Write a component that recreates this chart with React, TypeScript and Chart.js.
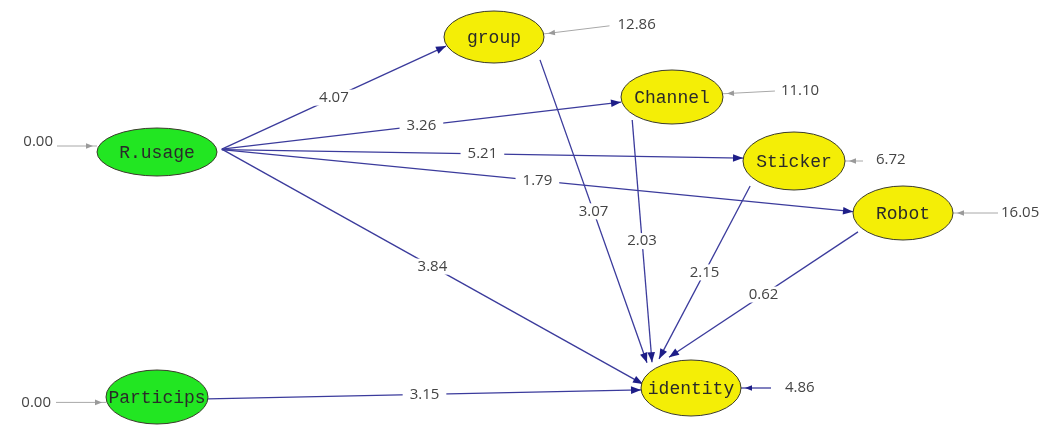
import React, { useEffect, useRef } from "react";
import { Chart, registerables } from "chart.js";

Chart.register(...registerables);

// ---- Data ----
const nodeNames = ["R.usage", "Particips", "group", "Channel", "Sticker", "Robot", "identity"];
const nodeX = [157, 157, 494, 672, 794, 903, 691];
const nodeY = [152, 397, 37, 97, 161, 213, 388];
const nodeKind = ["exo", "exo", "endo", "endo", "endo", "endo", "endo"];
const residualValues = [0.0, 0.0, 12.86, 11.1, 6.72, 16.05, 4.86];

const edgeFrom = ["R.usage", "R.usage", "R.usage", "R.usage", "R.usage", "group", "Channel", "Sticker", "Robot", "Particips"];
const edgeTo = ["group", "Channel", "Sticker", "Robot", "identity", "identity", "identity", "identity", "identity", "identity"];
const pathCoefs = [4.07, 3.26, 5.21, 1.79, 3.84, 3.07, 2.03, 2.15, 0.62, 3.15];

// ---- Styles ----
const NODE_SIZE: Record<string, [number, number]> = {
  "R.usage": [60, 24],
  Particips: [51, 27],
  group: [50, 26],
  Channel: [51, 27],
  Sticker: [51, 29],
  Robot: [50, 27],
  identity: [50, 28],
};
const FILL: Record<string, string> = { exo: "#22e622", endo: "#f4ee06" };
// ports in ellipse-normalised units [ux, uy] for from / to
const EDGE_PORTS: [number, number, number, number][] = [
  [1.08, -0.12, -0.96, 0.35],
  [1.08, -0.12, -1.0, 0.19],
  [1.08, -0.1, -1.0, -0.1],
  [1.08, -0.1, -1.0, -0.05],
  [1.08, -0.12, -0.96, -0.14],
  [0.92, 0.88, -0.88, -0.9],
  [-0.78, 0.85, -0.78, -0.92],
  [-0.86, 0.86, -0.64, -1.04],
  [-0.9, 0.7, -0.44, -1.1],
  [1.0, 0.07, -1.0, 0.07],
];
// residual: port ux, uy, angle(deg), line length, text gap, text dy
const RESID_STYLE: [number, number, number, number, number, number][] = [
  [-1.0, -0.25, 180, 40, 4, -4],
  [-1.0, 0.2, 180, 50, 5, 0],
  [1.0, -0.12, -7, 66, 8, -1],
  [1.0, -0.12, -3, 52, 6, 0],
  [1.0, 0.0, 0, 18, 13, -1],
  [1.0, 0.0, 0, 45, 3, 0],
  [1.0, 0.0, 0, 30, 14, 0],
];

const EDGE_COLOR = "#3b3b9c";
const HEAD_COLOR = "#1e1e88";
const RESID_COLOR = "#a8a8a8";
const TEXT_COLOR = "#444444";
const NUM_FONT = '15px "Open Sans", "Noto Sans", sans-serif';
const NODE_FONT = '18px "Liberation Mono", "DejaVu Sans Mono", monospace';

function arrowHead(ctx: CanvasRenderingContext2D, x1: number, y1: number, x2: number, y2: number, len: number, half: number, color: string) {
  const a = Math.atan2(y2 - y1, x2 - x1);
  ctx.save();
  ctx.fillStyle = color;
  ctx.beginPath();
  ctx.moveTo(x2, y2);
  ctx.lineTo(x2 - len * Math.cos(a) + half * Math.sin(a), y2 - len * Math.sin(a) - half * Math.cos(a));
  ctx.lineTo(x2 - len * Math.cos(a) - half * Math.sin(a), y2 - len * Math.sin(a) + half * Math.cos(a));
  ctx.closePath();
  ctx.fill();
  ctx.restore();
}

export default function App() {
  const ref = useRef<HTMLCanvasElement | null>(null);
  useEffect(() => {
    if (!ref.current) return;
    const plugin = {
      id: "pathDiagram",
      afterDatasetsDraw(chart: any) {
        const ctx: CanvasRenderingContext2D = chart.ctx;
        const meta = chart.getDatasetMeta(0);
        const pos: Record<string, { x: number; y: number; rx: number; ry: number }> = {};
        nodeNames.forEach((n, i) => {
          const el = meta.data[i];
          pos[n] = { x: el.x, y: el.y, rx: NODE_SIZE[n][0], ry: NODE_SIZE[n][1] };
        });
        ctx.save();
        // edges
        const mids: { x: number; y: number; t: string }[] = [];
        edgeFrom.forEach((f, i) => {
          const a = pos[f];
          const b = pos[edgeTo[i]];
          const p = EDGE_PORTS[i];
          const x1 = a.x + p[0] * a.rx, y1 = a.y + p[1] * a.ry;
          const x2 = b.x + p[2] * b.rx, y2 = b.y + p[3] * b.ry;
          ctx.strokeStyle = EDGE_COLOR;
          ctx.lineWidth = 1.3;
          ctx.beginPath();
          ctx.moveTo(x1, y1);
          ctx.lineTo(x2, y2);
          ctx.stroke();
          arrowHead(ctx, x1, y1, x2, y2, 10, 3.8, HEAD_COLOR);
          mids.push({ x: (x1 + x2) / 2, y: (y1 + y2) / 2, t: pathCoefs[i].toFixed(2) });
        });
        // residuals
        nodeNames.forEach((n, i) => {
          const a = pos[n];
          const s = RESID_STYLE[i];
          const sx = a.x + s[0] * a.rx, sy = a.y + s[1] * a.ry;
          const ang = (s[2] * Math.PI) / 180;
          const ex = sx + s[3] * Math.cos(ang), ey = sy + s[3] * Math.sin(ang);
          const isId = n === "identity";
          const col = isId ? EDGE_COLOR : RESID_COLOR;
          ctx.strokeStyle = col;
          ctx.lineWidth = isId ? 1.3 : 1;
          ctx.beginPath();
          ctx.moveTo(ex, ey);
          ctx.lineTo(sx, sy);
          ctx.stroke();
          const gx = sx + 4 * Math.cos(ang), gy = sy + 4 * Math.sin(ang);
          arrowHead(ctx, ex, ey, gx, gy, 7, 2.8, isId ? HEAD_COLOR : "#9a9a9a");
          ctx.fillStyle = TEXT_COLOR;
          ctx.font = NUM_FONT;
          ctx.textBaseline = "middle";
          const right = Math.cos(ang) > 0;
          ctx.textAlign = right ? "left" : "right";
          ctx.fillText(residualValues[i].toFixed(2), ex + (right ? s[4] : -s[4]), ey + s[5]);
        });
        // edge labels
        ctx.font = NUM_FONT;
        mids.forEach((m) => {
          const w = ctx.measureText(m.t).width;
          ctx.fillStyle = "#ffffff";
          ctx.fillRect(m.x - w / 2 - 7, m.y - 8, w + 14, 16);
          ctx.fillStyle = TEXT_COLOR;
          ctx.textAlign = "center";
          ctx.textBaseline = "middle";
          ctx.fillText(m.t, m.x, m.y);
        });
        // nodes
        nodeNames.forEach((n, i) => {
          const a = pos[n];
          ctx.beginPath();
          ctx.ellipse(a.x, a.y, a.rx, a.ry, 0, 0, Math.PI * 2);
          ctx.fillStyle = FILL[nodeKind[i]];
          ctx.fill();
          ctx.strokeStyle = "#3a3a2a";
          ctx.lineWidth = 1;
          ctx.stroke();
          ctx.fillStyle = "#2a2a2a";
          ctx.font = NODE_FONT;
          ctx.textAlign = "center";
          ctx.textBaseline = "middle";
          ctx.fillText(n, a.x, a.y + 1);
        });
        ctx.restore();
      },
    };
    const chart = new Chart(ref.current, {
      type: "scatter",
      data: {
        datasets: [
          {
            data: nodeX.map((x, i) => ({ x, y: nodeY[i] })),
            pointRadius: 0,
            pointHoverRadius: 0,
          },
        ],
      },
      options: {
        animation: false,
        responsive: false,
        maintainAspectRatio: false,
        layout: { padding: 0 },
        events: [],
        plugins: { legend: { display: false }, tooltip: { enabled: false } },
        scales: {
          x: { type: "linear", min: 0, max: 1043, display: false },
          y: { type: "linear", min: 0, max: 425, reverse: true, display: false },
        },
      },
      plugins: [plugin],
    });
    return () => chart.destroy();
  }, []);
  return (
    <div style={{ position: "absolute", left: 0, top: 0, width: 1043, height: 425, background: "#ffffff" }}>
      <canvas ref={ref} width={1043} height={425} style={{ display: "block" }} />
    </div>
  );
}
